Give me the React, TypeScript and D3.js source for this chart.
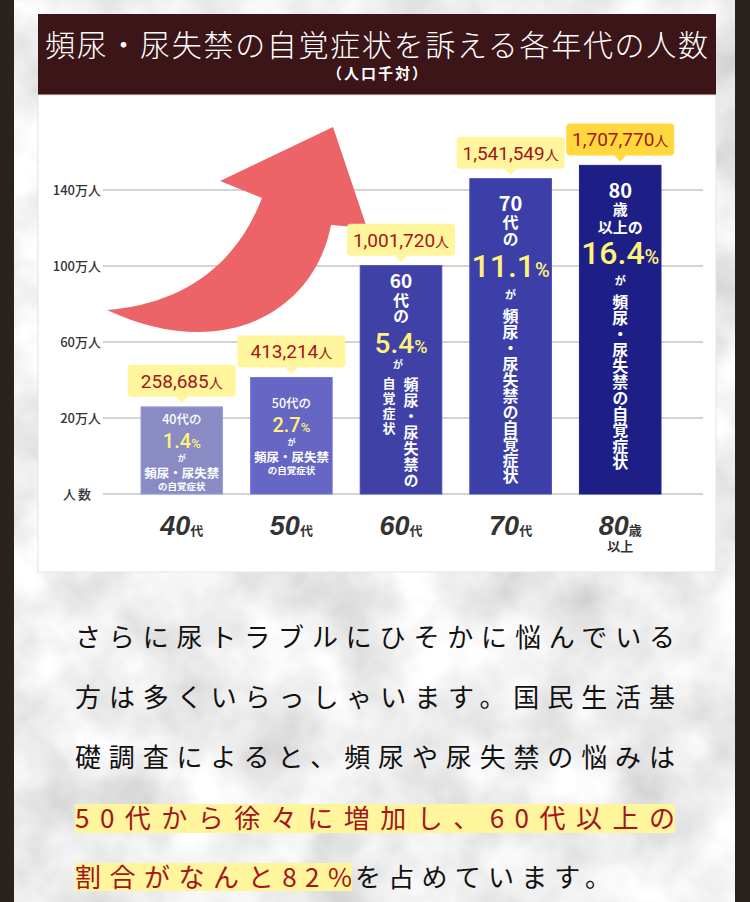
import React from 'react';
import * as d3 from 'd3';

// ---------- data ----------
const categories = ['40代', '50代', '60代', '70代', '80歳以上'];
const values = [258685, 413214, 1001720, 1541549, 1707770];
const percents = ['1.4', '2.7', '5.4', '11.1', '16.4'];
const xNums = ['40', '50', '60', '70', '80'];
const xUnits = ['代', '代', '代', '代', '歳'];
const tickValues = [0, 200000, 600000, 1000000, 1400000];
const tickLabels = ['人数', '20万人', '60万人', '100万人', '140万人'];
const barColors = ['#8a8bc4', '#6667c4', '#3f41a7', '#3c3fa7', '#1d1f86'];
const calloutColors = ['#fff59d', '#fff59d', '#fff59d', '#fff59d', '#ffd83d'];

const titleText = '頻尿・尿失禁の自覚症状を訴える各年代の人数';
const subTitle = '（人口千対）';
const paraLines = [
  'さらに尿トラブルにひそかに悩んでいる',
  '方は多くいらっしゃいます。国民生活基',
  '礎調査によると、頻尿や尿失禁の悩みは',
];
const highlightLine = '50代から徐々に増加し、60代以上の';
const lastRed = '割合がなんと82%';
const lastBlack = 'を占めています。';

const JP = '"Noto Sans CJK JP", "Noto Sans", sans-serif';
const NUM = 'Roboto, "Noto Sans", sans-serif';
const YEL = '#fff27a';
const RED = '#a3161c';

// ---------- scales ----------
const y = d3
  .scaleLinear()
  .domain([0, 200000, 600000, 1000000, 1400000, 1800000])
  .range([494, 418, 342, 266, 190, 158]);
const x = d3
  .scaleBand<string>()
  .domain(categories)
  .range([141, 661])
  .paddingInner(0.256)
  .paddingOuter(0);
const fmt = d3.format(',');

type Line = { t: string; dy: number; fs: number; fw?: number; pct?: [number, number]; dx?: number };
type Col = { chars: string; dx: number; y0: number; step: number; fs: number };

// per-bar text layouts (offsets from bar top); y0 of a column = centre of its first glyph
function layout(i: number): { lines: Line[]; cols: Col[] } {
  if (i === 0 || i === 1) {
    const o = i === 0 ? 0 : 14;
    return {
      lines: [
        { t: `${xNums[i]}代の`, dy: 17 + o, fs: 12.5, fw: 500 },
        { t: percents[i], dy: 41 + o, fs: 20, pct: [20, 13] },
        { t: 'が', dy: 54 + o, fs: 8 },
        { t: '頻尿・尿失禁', dy: 71 + o, fs: 12.5 },
        { t: 'の自覚症状', dy: 83 + o, fs: 9.5 },
      ],
      cols: [],
    };
  }
  if (i === 2) {
    return {
      lines: [
        { t: xNums[i], dy: 22, fs: 19 },
        { t: percents[i], dy: 87, fs: 28, pct: [28, 18] },
        { t: 'が', dy: 102, fs: 10, dx: -3 },
      ],
      cols: [
        { chars: '代の', dx: 0, y0: 34, step: 16, fs: 16 },
        { chars: '自覚症状', dx: -12, y0: 117, step: 15, fs: 13 },
        { chars: '頻尿・尿失禁の', dx: 10, y0: 119, step: 16, fs: 15 },
      ],
    };
  }
  if (i === 3) {
    return {
      lines: [
        { t: xNums[i], dy: 32, fs: 20 },
        { t: percents[i], dy: 98, fs: 32, pct: [32, 20] },
        { t: 'が', dy: 120, fs: 11 },
      ],
      cols: [
        { chars: '代の', dx: 0, y0: 43, step: 17, fs: 16 },
        { chars: '頻尿・尿失禁の自覚症状', dx: 0, y0: 137, step: 16, fs: 16 },
      ],
    };
  }
  return {
    lines: [
      { t: xNums[i], dy: 33, fs: 20 },
      { t: '歳', dy: 50, fs: 15 },
      { t: '以上の', dy: 68, fs: 15 },
      { t: percents[i], dy: 99, fs: 32, pct: [32, 20] },
      { t: 'が', dy: 120, fs: 11 },
    ],
    cols: [{ chars: '頻尿・尿失禁の自覚症状', dx: 0, y0: 137, step: 16, fs: 16 }],
  };
}

function BarText({ i, cx, t }: { i: number; cx: number; t: number }) {
  const { lines, cols } = layout(i);
  return (
    <g>
      <text textAnchor="middle" fontFamily={JP} fontWeight={700} fill="#fff">
        {lines.map((l, k) =>
          l.pct ? (
            <tspan key={k} x={cx + (l.dx || 0)} y={t + l.dy} fontFamily={NUM} fontWeight={500} fill={YEL} fontSize={l.pct[0]}>
              {l.t}
              <tspan fontSize={l.pct[1]}>%</tspan>
            </tspan>
          ) : (
            <tspan key={k} x={cx + (l.dx || 0)} y={t + l.dy} fontSize={l.fs} fontWeight={l.fw || 700}>
              {l.t}
            </tspan>
          )
        )}
      </text>
      {cols.map((c, k) => (
        <text
          key={'c' + k}
          x={cx + c.dx}
          y={t + c.y0 - c.fs / 2}
          style={{ writingMode: 'vertical-rl' }}
          letterSpacing={c.step - c.fs}
          fontFamily={JP}
          fontWeight={700}
          fontSize={c.fs}
          fill="#fff"
        >
          {c.chars}
        </text>
      ))}
    </g>
  );
}

export default function App() {
  const bw = x.bandwidth();
  return (
    <svg width={750} height={902} viewBox="0 0 750 902" style={{ position: 'absolute', left: 0, top: 0 }}>
      <defs>
        <filter id="marble" x="0" y="0" width="100%" height="100%">
          <feTurbulence type="fractalNoise" baseFrequency="0.013" numOctaves={4} seed={7} result="n" />
          <feColorMatrix
            in="n"
            type="matrix"
            values="0.6 0 0 0 0.56  0.6 0 0 0 0.56  0.6 0 0 0 0.56  0 0 0 0 1"
          />
        </filter>
      </defs>

      {/* background */}
      <rect x={0} y={0} width={750} height={902} fill="#2a221c" />
      <rect x={14} y={0} width={721} height={902} fill="#ddd" filter="url(#marble)" />

      {/* title box */}
      <rect x={38} y={14} width={678} height={81} fill="#3b1517" />
      <text
        x={45}
        y={56}
        textLength={663}
        lengthAdjust="spacing"
        fontFamily={JP}
        fontWeight={300}
        fontSize={30}
        fill="#fff"
      >
        {titleText}
      </text>
      <text
        x={378}
        y={79}
        textAnchor="middle"
        fontFamily={JP}
        fontWeight={700}
        fontSize={15}
        letterSpacing={2}
        fill="#fff"
      >
        {subTitle}
      </text>

      {/* chart panel */}
      <rect x={38} y={95} width={678} height={477} fill="#fff" stroke="#e4e4e4" strokeWidth={1} />

      {/* grid + y labels */}
      {tickValues.map((v, i) => (
        <g key={v}>
          <line x1={103} x2={703} y1={y(v)} y2={y(v)} stroke="#c6c6c6" strokeWidth={1.3} />
          <text
            x={i === 0 ? 93 : 101}
            y={y(v)}
            dy="0.36em"
            textAnchor="end"
            fontFamily={JP}
            fontWeight={500}
            fontSize={13}
            letterSpacing={i === 0 ? 2 : 0}
            fill="#333"
          >
            {tickLabels[i]}
          </text>
        </g>
      ))}

      {/* arrow */}
      <path
        d="M107,310 C170,305 232,276 262,198 L220,181 L333,127 L367,228 L331,225 C315,310 225,365 107,310 Z"
        fill="#ec6467"
      />

      {/* bars */}
      {categories.map((c, i) => {
        const bx = x(c) as number;
        const t = y(values[i]);
        const cx = bx + bw / 2;
        const boxB = t - 10;
        return (
          <g key={c}>
            <rect
              x={bx}
              y={t}
              width={bw}
              height={y(0) - t}
              fill={barColors[i]}
              stroke={d3.color(barColors[i])!.brighter(0.35).toString()}
              strokeWidth={1}
            />
            <BarText i={i} cx={cx} t={t} />
            <rect x={cx - 54} y={boxB - 32} width={108} height={32} rx={4} fill={calloutColors[i]} />
            <path d={`M${cx - 6},${boxB} L${cx},${boxB + 6} L${cx + 6},${boxB} Z`} fill={calloutColors[i]} />
            <text x={cx} y={boxB - 9} textAnchor="middle" fontFamily={NUM} fontSize={19} fill={RED}>
              {fmt(values[i])}
              <tspan fontFamily={JP} fontSize={14}>人</tspan>
            </text>
            {/* x label */}
            <text x={cx} y={535} textAnchor="middle" fill="#333">
              <tspan fontFamily='"Liberation Sans", Arial, sans-serif' fontWeight={700} fontStyle="italic" fontSize={27}>
                {xNums[i]}
              </tspan>
              <tspan fontFamily={JP} fontWeight={700} fontSize={13}>{xUnits[i]}</tspan>
              {i === 4 && (
                <tspan x={cx} y={551} fontFamily={JP} fontWeight={700} fontSize={13}>
                  以上
                </tspan>
              )}
            </text>
          </g>
        );
      })}

      {/* paragraph */}
      {paraLines.map((l, i) => (
        <text
          key={i}
          x={75}
          y={647 + i * 60}
          textLength={600}
          lengthAdjust="spacing"
          fontFamily={JP}
          fontSize={26}
          fill="#111"
        >
          {l}
        </text>
      ))}
      <rect x={75} y={804} width={600} height={29} fill="#fff59d" />
      <text x={75} y={828} textLength={600} lengthAdjust="spacing" fontFamily={JP} fontSize={26} fill={RED}>
        {highlightLine}
      </text>
      <rect x={75} y={863} width={277} height={28} fill="#fff59d" />
      <text x={75} y={887} textLength={277} lengthAdjust="spacing" fontFamily={JP} fontSize={26} fill={RED}>
        {lastRed}
      </text>
      <text x={355} y={887} textLength={256} lengthAdjust="spacing" fontFamily={JP} fontSize={26} fill="#111">
        {lastBlack}
      </text>
    </svg>
  );
}
